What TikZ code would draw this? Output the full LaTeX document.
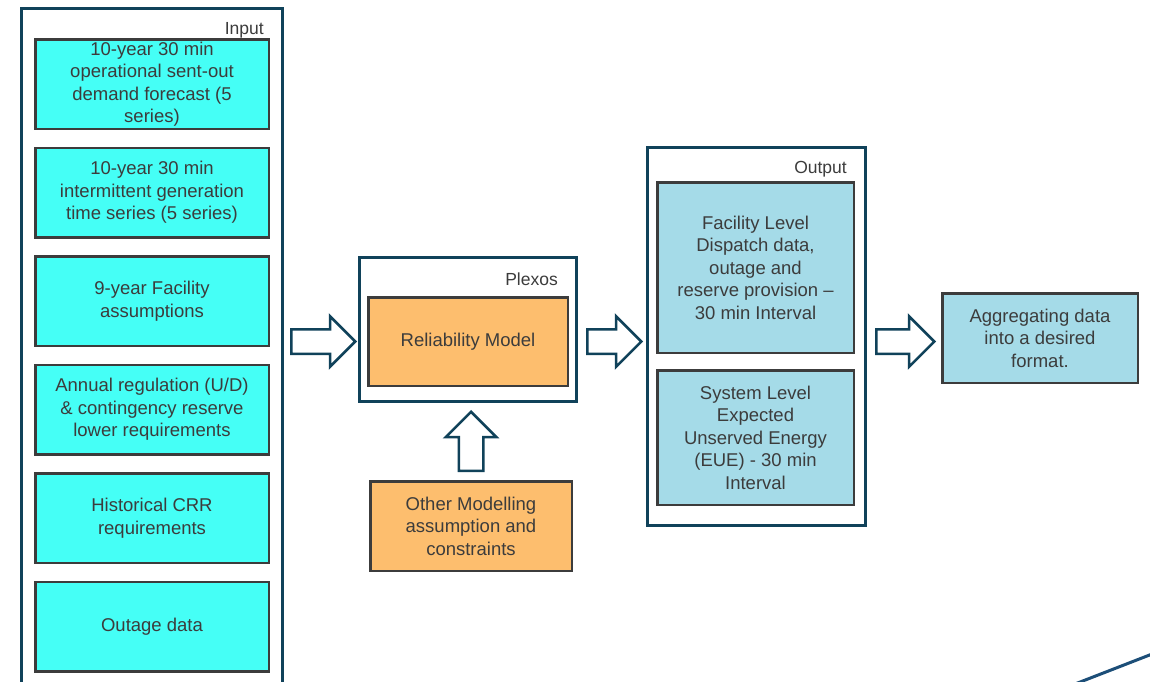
\documentclass[tikz,border=0pt]{standalone}
\usepackage{fontspec}
\setmainfont{Liberation Sans}
\usetikzlibrary{positioning,calc,shapes.arrows}
\definecolor{frame edge}{RGB}{16,66,90}
\definecolor{box edge}{RGB}{60,60,60}
\definecolor{box text}{RGB}{60,60,60}
\definecolor{input area}{RGB}{69,255,246}
\definecolor{model area}{RGB}{253,190,110}
\definecolor{output area}{RGB}{165,219,232}
\definecolor{corner line}{RGB}{28,78,120}
\tikzset{frame/.style={draw=frame edge, line width=3pt, fill=white},
    databox/.style={draw=box edge, line width=2.5pt, align=center, text=box text,
        font=\fontsize{18.5}{22.5}\selectfont, inner sep=0pt},
    inbox/.style={databox, fill=input area, minimum width=233.5pt, minimum height=89.5pt},
    framelabel/.style={anchor=east, text=box text, font=\fontsize{17.5}{22}\selectfont, inner sep=0pt},
    blockarrow/.style={single arrow, draw=frame edge, line width=2.5pt, fill=white,
        inner xsep=0pt, inner ysep=11pt, single arrow head extend=13pt, anchor=tail}}

\begin{document}
\begin{tikzpicture}[x=1pt,y=-1pt]
    \clip (0,0) rectangle (1150,681);
    % input column
    \node[frame, minimum width=261pt, minimum height=691.5pt] (input) at (152,354.25) {};
    \node[framelabel] (inlabel) at ([shift={(-20,23)}]input.north east) {Input};
    \node[inbox] (demand) at (152,84) {10-year 30 min\\operational sent-out\\demand forecast (5\\series)};
    \node[inbox, below=16.5pt of demand] (intermit) {10-year 30 min\\intermittent generation\\time series (5 series)};
    \node[inbox, below=16.5pt of intermit] (facility) {9-year Facility\\assumptions};
    \node[inbox, below=16.5pt of facility] (regul) {Annual regulation (U/D)\\\& contingency reserve\\lower requirements};
    \node[inbox, below=16.5pt of regul] (crr) {Historical CRR\\requirements};
    \node[inbox, below=16.5pt of crr] (outage) {Outage data};
    % plexos
    \node[frame, minimum width=217pt, minimum height=144pt] (plexos) at (468,329.5) {};
    \node[framelabel] (pllabel) at ([shift={(-20,23)}]plexos.north east) {Plexos};
    \node[databox, fill=model area, minimum width=199.5pt, minimum height=88.5pt] (rel) at (468,341.5) {Reliability Model};
    \node[databox, fill=model area, minimum width=201.5pt, minimum height=89.5pt] (other) at (471,526) {Other Modelling\\assumption and\\constraints};
    % output
    \node[frame, minimum width=218pt, minimum height=378pt] (output) at (756.5,336.5) {};
    \node[framelabel] (outlabel) at ([shift={(-20,23)}]output.north east) {Output};
    \node[databox, fill=output area, minimum width=196.5pt, minimum height=170.5pt] (dispatch) at (755.5,267.5) {Facility Level\\Dispatch data,\\outage and\\reserve provision --\\30 min Interval};
    \node[databox, fill=output area, minimum width=196.5pt, minimum height=134.5pt] (eue) at (755.5,437.5) {System Level\\Expected\\Unserved Energy\\(EUE) - 30 min\\Interval};
    \node[databox, fill=output area, minimum width=195.5pt, minimum height=89.5pt] (aggr) at (1040,338) {Aggregating data\\into a desired\\format.};
    % block arrows
    \node[blockarrow, minimum height=64pt] (inarrow) at ([xshift=6pt]input.east |- rel) {};
    \node[blockarrow, minimum height=54pt] (outarrow) at ([xshift=8pt]plexos.east |- rel) {};
    \node[blockarrow, minimum height=58pt] (aggarrow) at ([xshift=8pt]output.east |- rel) {};
    \node[blockarrow, shape border rotate=90, inner xsep=11pt, inner ysep=0pt, minimum height=59pt] (uparrow) at ([yshift=8pt]other.north) {};
    \draw[corner line, line width=3pt] (1075,684) -- (1156,652.5);
\end{tikzpicture}
\end{document}
